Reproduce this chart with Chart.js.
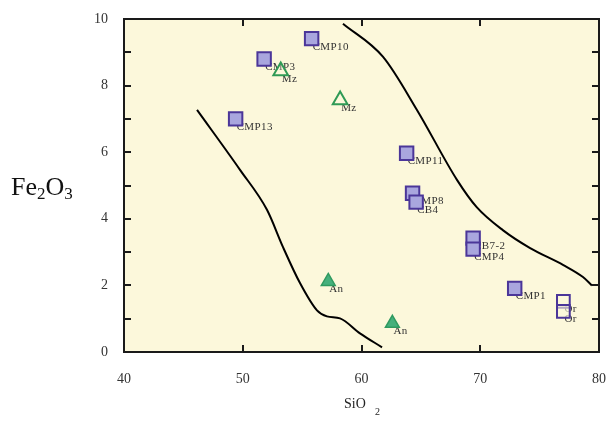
<!DOCTYPE html>
<html>
<head>
<meta charset="utf-8">
<script src="https://cdn.jsdelivr.net/npm/chart.js@4/dist/chart.umd.min.js"></script>
<style>
  html, body { margin: 0; padding: 0; background: #ffffff; }
  #wrap { width: 608px; height: 423px; position: relative; }
</style>
</head>
<body>
<div id="wrap"><canvas id="c" width="608" height="423"></canvas></div>
<script>
// Sample analyses: SiO2 (wt%) vs Fe2O3 (wt%)
const sampleNames = ['CMP10', 'CMP3', 'CMP13', 'CMP11', 'CMP8', 'CB4', 'CB7-2', 'CMP4', 'CMP1'];
const sampleSiO2  = [55.8, 51.8, 49.4, 63.8, 64.3, 64.6, 69.4, 69.4, 72.9];
const sampleFe2O3 = [9.41, 8.80, 7.00, 5.97, 4.77, 4.50, 3.42, 3.09, 1.91];

// Reference minerals
const orNames = ['Or', 'Or'];
const orSiO2  = [77.0, 77.0];
const orFe2O3 = [1.52, 1.22];

const mzNames = ['Mz', 'Mz'];
const mzSiO2  = [53.2, 58.2];
const mzFe2O3 = [8.44, 7.57];

const anNames = ['An', 'An'];
const anSiO2  = [57.2, 62.6];
const anFe2O3 = [2.12, 0.86];

// Field boundary curves
const leftCurveX  = [46.15, 49.77, 52.04, 53.39, 54.82, 56.25, 57.09, 58.19, 59.87, 61.73];
const leftCurveY  = [7.27, 5.47, 4.27, 3.15, 2.07, 1.25, 1.07, 1.01, 0.56, 0.14];
const rightCurveX = [58.44, 61.8, 64.67, 68.04, 69.7, 71.9, 74.2, 77.0, 78.65, 79.4];
const rightCurveY = [9.86, 8.87, 7.27, 5.17, 4.35, 3.66, 3.12, 2.61, 2.25, 2.0];

// Axis ticks
const xTicks = [40, 50, 60, 70, 80];
const yTicks = [0, 1, 2, 3, 4, 5, 6, 7, 8, 9, 10];
const yTickLabels = [0, 2, 4, 6, 8, 10];

const pts = (xs, ys) => xs.map((x, i) => ({ x: x, y: ys[i] }));

const SERIF = '"Liberation Serif", "DejaVu Serif", serif';
const PLOT_BG = '#fcf8db';

const plotFrame = {
  id: 'plotFrame',
  beforeDraw(chart) {
    const { ctx, chartArea: a } = chart;
    ctx.save();
    ctx.fillStyle = PLOT_BG;
    ctx.fillRect(a.left, a.top, a.right - a.left, a.bottom - a.top);
    ctx.restore();
  },
  afterDatasetsDraw(chart) {
    const { ctx, chartArea: a, scales } = chart;
    ctx.save();
    ctx.strokeStyle = '#1a1a1a';
    ctx.lineWidth = 2;
    ctx.strokeRect(a.left, a.top, a.right - a.left, a.bottom - a.top);
    // inward ticks
    const tl = 7;
    ctx.beginPath();
    xTicks.slice(1, -1).forEach(v => {
      const px = Math.round(scales.x.getPixelForValue(v));
      ctx.moveTo(px, a.bottom); ctx.lineTo(px, a.bottom - tl);
      ctx.moveTo(px, a.top); ctx.lineTo(px, a.top + tl);
    });
    yTicks.slice(1, -1).forEach(v => {
      const py = Math.round(scales.y.getPixelForValue(v));
      ctx.moveTo(a.left, py); ctx.lineTo(a.left + tl, py);
      ctx.moveTo(a.right, py); ctx.lineTo(a.right - tl, py);
    });
    ctx.stroke();
    // x tick labels, centred under each tick position
    ctx.font = '14px ' + SERIF;
    ctx.fillStyle = '#333333';
    ctx.textAlign = 'center';
    ctx.textBaseline = 'middle';
    xTicks.forEach(v => {
      ctx.fillText(String(v), scales.x.getPixelForValue(v), a.bottom + 27);
    });
    ctx.restore();
  }
};

// Sample / mineral names written beside each marker, beneath the markers
const pointNames = {
  id: 'pointNames',
  beforeDatasetsDraw(chart) {
    const { ctx } = chart;
    ctx.save();
    ctx.font = '11px ' + SERIF;
    ctx.letterSpacing = '0.4px';
    ctx.fillStyle = '#333333';
    ctx.textBaseline = 'middle';
    ctx.textAlign = 'left';
    chart.data.datasets.forEach((ds, di) => {
      if (!ds.names) return;
      const meta = chart.getDatasetMeta(di);
      meta.data.forEach((el, i) => {
        ctx.fillText(ds.names[i], el.x + 1, el.y + 8);
      });
    });
    ctx.restore();
  }
};

// Axis titles with chemical subscripts
const axisTitles = {
  id: 'axisTitles',
  afterDraw(chart) {
    const { ctx } = chart;
    ctx.save();
    ctx.fillStyle = '#111111';
    ctx.textBaseline = 'alphabetic';
    ctx.textAlign = 'left';
    // y title: Fe2O3
    let x = 11, y = 195;
    const parts = [['Fe', 26, 0], ['2', 17, 4], ['O', 26, 0], ['3', 17, 4]];
    parts.forEach(([t, s, dy]) => {
      ctx.font = s + 'px ' + SERIF;
      ctx.fillText(t, x, y + dy);
      x += ctx.measureText(t).width;
    });
    // x title: SiO2
    ctx.fillStyle = '#222222';
    ctx.font = '14px ' + SERIF;
    ctx.fillText('SiO', 344, 408);
    ctx.font = '10px ' + SERIF;
    ctx.fillText('2', 375, 415);
    ctx.restore();
  }
};

const chart = new Chart(document.getElementById('c'), {
  type: 'scatter',
  data: {
    datasets: [
      {
        label: 'left boundary', type: 'line', data: pts(leftCurveX, leftCurveY),
        borderColor: '#000000', borderWidth: 2, pointRadius: 0,
        cubicInterpolationMode: 'monotone', fill: false
      },
      {
        label: 'right boundary', type: 'line', data: pts(rightCurveX, rightCurveY),
        borderColor: '#000000', borderWidth: 2, pointRadius: 0,
        cubicInterpolationMode: 'monotone', fill: false
      },
      {
        label: 'Or', data: pts(orSiO2, orFe2O3), names: orNames,
        pointStyle: 'rect', pointRadius: 9, borderWidth: 2,
        borderColor: '#4b3699', backgroundColor: 'rgba(252,248,219,0.6)'
      },
      {
        label: 'samples', data: pts(sampleSiO2, sampleFe2O3), names: sampleNames,
        pointStyle: 'rect', pointRadius: 9.5, borderWidth: 2,
        borderColor: '#4b3699', backgroundColor: '#a9a6de'
      },
      {
        label: 'Mz', data: pts(mzSiO2, mzFe2O3), names: mzNames,
        pointStyle: 'triangle', pointRadius: 8.5, borderWidth: 2,
        borderColor: '#2f9a55', backgroundColor: 'rgba(252,248,219,0.3)'
      },
      {
        label: 'An', data: pts(anSiO2, anFe2O3), names: anNames,
        pointStyle: 'triangle', pointRadius: 8, borderWidth: 1.5,
        borderColor: '#2f9a60', backgroundColor: '#45b07c'
      }
    ]
  },
  options: {
    responsive: false,
    animation: false,
    devicePixelRatio: 1,
    layout: { autoPadding: false, padding: { left: 0, right: 9, top: 19, bottom: 0 } },
    plugins: {
      legend: { display: false },
      tooltip: { enabled: false }
    },
    elements: { point: { hoverRadius: 8 } },
    scales: {
      x: {
        type: 'linear', min: 40, max: 80,
        afterBuildTicks(scale) { scale.ticks = xTicks.map(v => ({ value: v })); },
        afterFit(scale) { scale.height = 71; scale.paddingLeft = 0; scale.paddingRight = 0; },
        grid: { display: false, drawTicks: false },
        border: { display: false },
        ticks: { display: false }
      },
      y: {
        type: 'linear', min: 0, max: 10,
        afterBuildTicks(scale) { scale.ticks = yTickLabels.map(v => ({ value: v })); },
        afterFit(scale) { scale.width = 124; scale.paddingTop = 0; scale.paddingBottom = 0; },
        grid: { display: false, drawTicks: false },
        border: { display: false },
        ticks: {
          padding: 16, color: '#333333',
          font: { family: SERIF, size: 14 }
        }
      }
    }
  },
  plugins: [plotFrame, pointNames, axisTitles]
});
</script>
</body>
</html>
